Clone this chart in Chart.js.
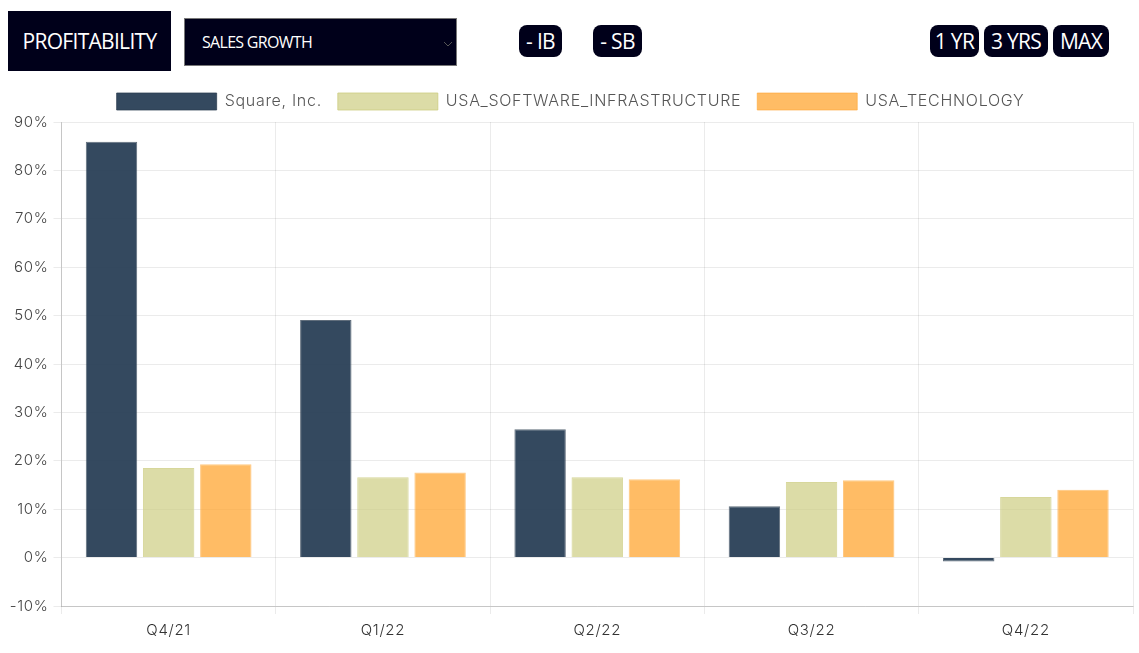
<!DOCTYPE html>
<html>
<head>
  <meta charset="utf-8" />
  <title>Sales Growth</title>
  <script src="https://cdn.jsdelivr.net/npm/chart.js"></script>
  <style>
    body { background: white; margin: 0; width: 1139px; height: 653px; position: relative; overflow: hidden; font-family: "Open Sans", sans-serif; }
    .btn { position: absolute; background: #00001a; color: white; display: flex; align-items: center; justify-content: center; box-sizing: border-box; letter-spacing: -0.7px; }
    .small { top: 25px; height: 32px; border-radius: 8px; font-size: 21px; }
    #profit { left: 8px; top: 11px; width: 163px; height: 60px; font-size: 21px; }
    #metric { left: 184px; top: 18px; width: 273px; height: 48px; border: 1px solid #777; justify-content: flex-start; padding-left: 17px; font-size: 16px; font-weight: 500; }
    #metric svg { position: absolute; right: 3px; top: 22px; }
    #chart-container { position: absolute; left: 0; top: 77px; width: 1139px; height: 576px; }
  </style>
</head>
<body>
  <div class="btn" id="profit">PROFITABILITY</div>
  <div class="btn" id="metric">SALES GROWTH
    <svg width="10" height="6" viewBox="0 0 10 6"><path d="M1 1l4 4 4-4" fill="none" stroke="#555" stroke-width="1"/></svg>
  </div>
  <div class="btn small" style="left:519px;width:43px">- IB</div>
  <div class="btn small" style="left:593px;width:49px">- SB</div>
  <div class="btn small" style="left:930px;width:49px">1 YR</div>
  <div class="btn small" style="left:984px;width:64px">3 YRS</div>
  <div class="btn small" style="left:1053px;width:56px">MAX</div>

  <div id="chart-container">
    <canvas id="growthChart" width="1139" height="576"></canvas>
  </div>

  <script>
    const quarters = ['Q4/21', 'Q1/22', 'Q2/22', 'Q3/22', 'Q4/22'];
    const squareValues = [85.9, 49.1, 26.5, 10.6, -0.8];
    const softwareValues = [18.5, 16.6, 16.6, 15.6, 12.5];
    const technologyValues = [19.3, 17.6, 16.2, 16.0, 14.0];

    const labelFont = "'Inter', sans-serif";

    // the original font is wider than anything installed, so space the canvas text out a bit
    const wideText = {
      id: 'wideText',
      beforeInit(chart) { chart.ctx.letterSpacing = '0.7px'; },
      beforeLayout(chart) { chart.ctx.letterSpacing = '0.7px'; }
    };

    // a little more room under the legend
    const legendGap = {
      id: 'legendGap',
      beforeInit(chart) {
        const fit = chart.legend.fit;
        chart.legend.fit = function () {
          fit.call(this);
          this.height += 2;
        };
      }
    };

    new Chart(document.getElementById('growthChart').getContext('2d'), {
      type: 'bar',
      plugins: [wideText, legendGap],
      data: {
        labels: quarters,
        datasets: [
          {
            label: 'Square, Inc.',
            data: squareValues,
            backgroundColor: 'rgba(41,63,86,0.95)',
            borderColor: 'rgba(44,62,80,0.75)',
            borderWidth: 1
          },
          {
            label: 'USA_SOFTWARE_INFRASTRUCTURE',
            data: softwareValues,
            backgroundColor: 'rgba(205,205,130,0.7)',
            borderColor: 'rgba(205,205,130,0.8)',
            borderWidth: 1
          },
          {
            label: 'USA_TECHNOLOGY',
            data: technologyValues,
            backgroundColor: 'rgba(255,165,50,0.75)',
            borderColor: 'rgba(255,165,50,0.6)',
            borderWidth: 1
          }
        ]
      },
      options: {
        responsive: false,
        animation: false,
        layout: { padding: { left: 8, right: 6, bottom: 7 } },
        plugins: {
          legend: {
            position: 'top',
            labels: { boxWidth: 100, boxHeight: 17, padding: 16, color: '#555', font: { family: labelFont, size: 16, weight: 300 } }
          },
          tooltip: { enabled: false }
        },
        scales: {
          y: {
            min: -10,
            max: 90,
            afterFit: (axis) => { axis.width = 53.5; },
            ticks: { stepSize: 10, padding: 5, color: '#444', font: { family: labelFont, size: 15, weight: 300 }, callback: (v) => v + '%' },
            grid: { color: 'rgba(0,0,0,0.08)' },
            border: { color: 'rgba(0,0,0,0.16)' }
          },
          x: {
            ticks: { padding: 7, color: '#333', font: { family: labelFont, size: 15, weight: 300 } },
            grid: { color: 'rgba(0,0,0,0.08)' },
            border: { color: 'rgba(0,0,0,0.16)' }
          }
        }
      }
    });
  </script>
</body>
</html>
